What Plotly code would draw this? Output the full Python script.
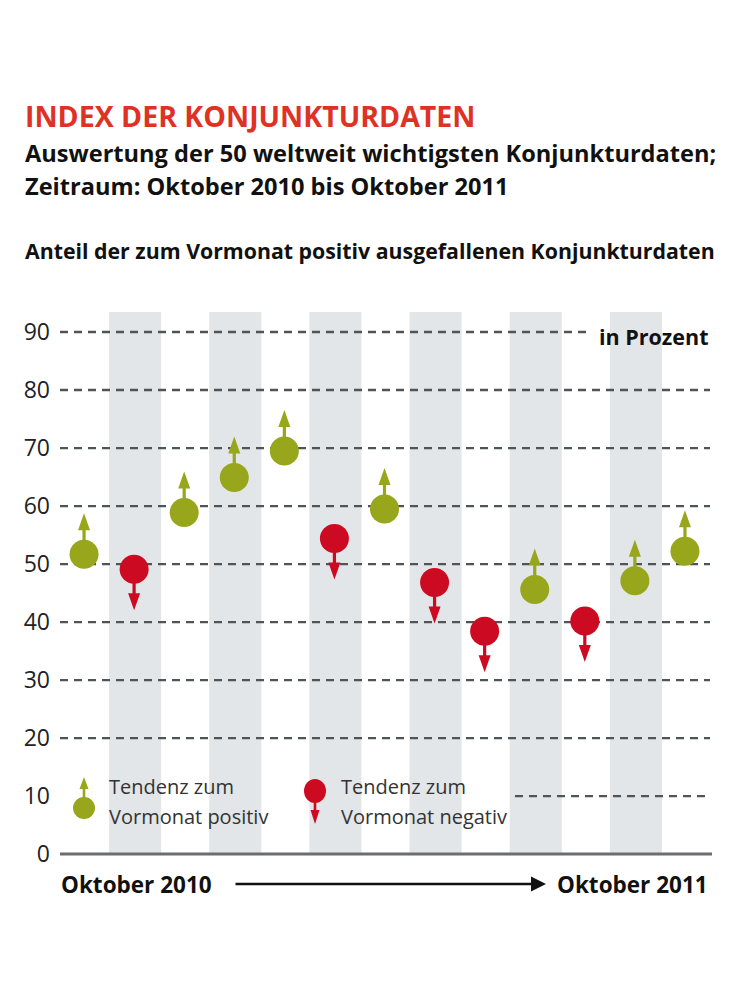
import plotly.graph_objects as go

# Oktober 2010 .. Oktober 2011, Anteil positiver Konjunkturdaten in Prozent
months = list(range(13))
values = [51.7, 49.1, 58.9, 64.9, 69.5, 54.4, 59.5, 46.8, 38.4, 45.6, 40.2, 47.1, 52.2]
tendency = ['pos', 'neg', 'pos', 'pos', 'pos', 'neg', 'pos', 'neg', 'neg', 'pos', 'neg', 'pos', 'pos']
y_ticks = [0, 10, 20, 30, 40, 50, 60, 70, 80, 90]
shaded = [1, 3, 5, 7, 9, 11]

GREEN = '#97a61b'
RED = '#cc0a22'
BAND = '#e2e6e9'
GRID = '#4f5459'
FONT = 'Open Sans'

# page body adds 8px, so the figure is a bit smaller than the window
OFF = 8
W, H = 742, 992
# plot area in page pixels
PL, PR, PT, PB = 60, 710, 312, 857
L, R, T, B = PL - OFF, W - (PR - OFF), PT - OFF, H - (PB - OFF)


def px_x(p):
    return (p - PL) / (PR - PL)


def px_y(p):
    return (PB - p) / (PB - PT)


def arrow(up, r=13, stem=11, head=17, hw=6, sw=1.6):
    s = 1 if up else -1
    a, b, c = s * r, s * (r + stem), s * (r + stem + head)
    return (f'M{-sw},{a} L{-sw},{b} L{-hw},{b} L0,{c} '
            f'L{hw},{b} L{sw},{b} L{sw},{a} Z')


colors = [GREEN if t == 'pos' else RED for t in tendency]

fig = go.Figure()
fig.add_trace(go.Scatter(
    x=months, y=values, mode='markers',
    marker=dict(size=29, color=colors, line=dict(width=0)),
    hoverinfo='y', showlegend=False))

shapes = []
for i in shaded:
    shapes.append(dict(type='rect', xref='x', yref='paper', x0=i - 0.5, x1=i + 0.54,
                       y0=px_y(854), y1=1, fillcolor=BAND, line=dict(width=0), layer='below'))

for v in y_ticks[1:]:
    x0, x1 = 0, 1
    if v == 90:
        x1 = px_x(588)
    if v == 10:
        x0 = px_x(515)
    shapes.append(dict(type='line', xref='paper', yref='y', x0=x0, x1=x1, y0=v, y1=v,
                       line=dict(color=GRID, width=2.3, dash='8px,6px'), layer='below'))

shapes.append(dict(type='line', xref='paper', yref='y', x0=0, x1=px_x(712), y0=0, y1=0,
                   line=dict(color='#6b6d70', width=3)))

for m, v, t in zip(months, values, tendency):
    shapes.append(dict(type='path', xref='x', yref='y', xanchor=m, yanchor=v,
                       xsizemode='pixel', ysizemode='pixel', path=arrow(t == 'pos'),
                       fillcolor=GREEN if t == 'pos' else RED, line=dict(width=0)))

# legend symbols
shapes.append(dict(type='path', xref='paper', yref='paper', xanchor=px_x(84), yanchor=px_y(808),
                   xsizemode='pixel', ysizemode='pixel',
                   path=arrow(True, r=10, stem=9, head=12, hw=4.5, sw=1.3),
                   fillcolor=GREEN, line=dict(width=0)))
shapes.append(dict(type='circle', xref='paper', yref='paper', xanchor=px_x(84), yanchor=px_y(808),
                   xsizemode='pixel', ysizemode='pixel', x0=-11, x1=11, y0=-11, y1=11,
                   fillcolor=GREEN, line=dict(width=0)))
shapes.append(dict(type='path', xref='paper', yref='paper', xanchor=px_x(315), yanchor=px_y(791),
                   xsizemode='pixel', ysizemode='pixel',
                   path=arrow(False, r=10, stem=9, head=14, hw=4.5, sw=1.3),
                   fillcolor=RED, line=dict(width=0)))
shapes.append(dict(type='circle', xref='paper', yref='paper', xanchor=px_x(315), yanchor=px_y(791),
                   xsizemode='pixel', ysizemode='pixel', x0=-11, x1=11, y0=-12, y1=12,
                   fillcolor=RED, line=dict(width=0)))

legend_font = dict(size=20, color='#333')
annotations = [
    dict(text='<b>INDEX DER KONJUNKTURDATEN</b>', x=px_x(23), y=px_y(116),
         font=dict(size=28.5, color='#e03224')),
    dict(text='<b>Auswertung der 50 weltweit wichtigsten Konjunkturdaten;</b>', x=px_x(23), y=px_y(153),
         font=dict(size=23.6, color='#111')),
    dict(text='<b>Zeitraum: Oktober 2010 bis Oktober 2011</b>', x=px_x(23), y=px_y(186),
         font=dict(size=23.6, color='#111')),
    dict(text='<b>Anteil der zum Vormonat positiv ausgefallenen Konjunkturdaten</b>', x=px_x(23), y=px_y(250),
         font=dict(size=21.3, color='#111')),
    dict(text='<b>in Prozent</b>', x=px_x(711), y=px_y(336), xanchor='right',
         font=dict(size=21.5, color='#111')),
    dict(text='Tendenz zum', x=px_x(107), y=px_y(786), font=legend_font),
    dict(text='Vormonat positiv', x=px_x(107), y=px_y(816), font=legend_font),
    dict(text='Tendenz zum', x=px_x(339), y=px_y(786), font=legend_font),
    dict(text='Vormonat negativ', x=px_x(339), y=px_y(816), font=legend_font),
    dict(text='<b>Oktober 2010</b>', x=px_x(59), y=px_y(884), font=dict(size=22.5, color='#111')),
    dict(text='<b>Oktober 2011</b>', x=px_x(710), y=px_y(884), xanchor='right',
         font=dict(size=22.5, color='#111')),
    dict(text='', x=px_x(546), y=px_y(884), showarrow=True, ax=-314, ay=0,
         arrowhead=2, arrowsize=1.2, arrowwidth=2.5, arrowcolor='#111'),
]
for a in annotations:
    a.setdefault('xref', 'paper')
    a.setdefault('yref', 'paper')
    a.setdefault('xanchor', 'left')
    a.setdefault('yanchor', 'middle')
    a.setdefault('showarrow', False)

fig.update_layout(
    width=W, height=H,
    margin=dict(l=L, r=R, t=T, b=B),
    paper_bgcolor='white', plot_bgcolor='white',
    font=dict(family=FONT),
    xaxis=dict(range=[-0.48, 12.5], showgrid=False, zeroline=False,
               showticklabels=False, fixedrange=True),
    yaxis=dict(range=[-0.5, 93.45], tickvals=y_ticks, showgrid=False, zeroline=False,
               ticks='', ticklabelstandoff=9, fixedrange=True,
               tickfont=dict(size=23, color='#222', family=FONT)),
    shapes=shapes,
    annotations=annotations,
)

fig.write_html('out.html')
